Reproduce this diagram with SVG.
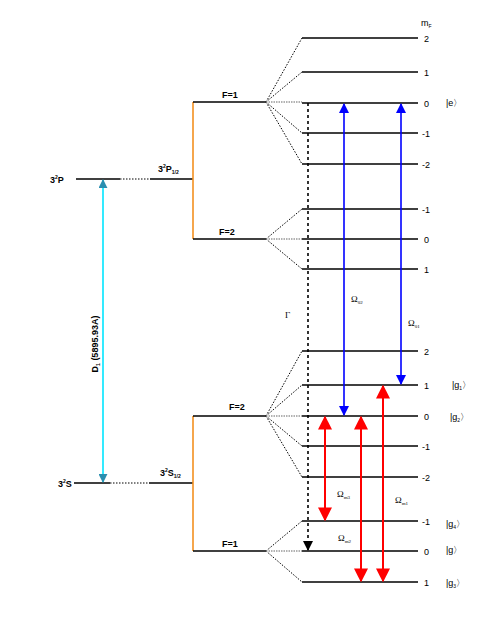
<svg xmlns="http://www.w3.org/2000/svg" width="485" height="627" viewBox="0 0 485 627">
<style>
.lv{stroke:#000;stroke-width:1.6;fill:none}
.dot{stroke:#000;stroke-width:1;stroke-dasharray:1.5 1.5;fill:none}
.hd{stroke:#999;stroke-width:1.5;stroke-dasharray:1.5 1;fill:none}
.dd{stroke:#000;stroke-width:1.6;stroke-dasharray:3 3;fill:none}
.or{stroke:#f39020;stroke-width:1.6;fill:none}
.t{font-family:"Liberation Sans",Arial,sans-serif;font-size:9px;fill:#000}
.b{font-family:"Liberation Sans",Arial,sans-serif;font-size:9px;font-weight:bold;fill:#000}
.sb{font-size:5px}
.om{font-family:"Liberation Serif","Times New Roman",serif;font-size:9px;fill:#000}
</style>
<defs>
<marker id="ab" viewBox="0 0 10 10" refX="9" refY="5" markerWidth="10" markerHeight="10" markerUnits="userSpaceOnUse" orient="auto-start-reverse"><path d="M0,0 L10,5 L0,10 z" fill="#0000ff"/></marker>
<marker id="ar" viewBox="0 0 10 10" refX="9" refY="5" markerWidth="14" markerHeight="14" markerUnits="userSpaceOnUse" orient="auto-start-reverse"><path d="M0,0 L10,5 L0,10 z" fill="#ff0000"/></marker>
<marker id="ac" viewBox="0 0 10 10" refX="9" refY="5" markerWidth="9" markerHeight="9" markerUnits="userSpaceOnUse" orient="auto-start-reverse"><path d="M0,0 L10,5 L0,10 z" fill="#2a8fb0"/></marker>
<marker id="ak" viewBox="0 0 10 10" refX="9" refY="5" markerWidth="10" markerHeight="10" markerUnits="userSpaceOnUse" orient="auto"><path d="M0,0 L10,5 L0,10 z" fill="#000"/></marker>
</defs>

<g id="fine-structure">
<g id="P"><line class="lv" x1="76" y1="179" x2="120" y2="179"/><line class="dot" x1="120" y1="179" x2="150" y2="179" stroke-dasharray="3 4" stroke-width="1.6"/><line class="lv" x1="150" y1="179" x2="193" y2="179"/>
<text class="b" x="50" y="183">3<tspan class="sb" dy="-4">2</tspan><tspan dy="4">P</tspan></text>
<text class="b" x="158" y="172">3<tspan class="sb" dy="-4">2</tspan><tspan dy="4">P</tspan><tspan class="sb" dy="2">1/2</tspan></text></g>
<g id="S"><line class="lv" x1="74" y1="483" x2="110" y2="483"/><line class="dot" x1="110" y1="483" x2="149" y2="483" stroke-dasharray="3 4" stroke-width="1.6"/><line class="lv" x1="149" y1="483" x2="193" y2="483"/>
<text class="b" x="58" y="487">3<tspan class="sb" dy="-4">2</tspan><tspan dy="4">S</tspan></text>
<text class="b" x="160" y="476">3<tspan class="sb" dy="-4">2</tspan><tspan dy="4">S</tspan><tspan class="sb" dy="2">1/2</tspan></text></g>
</g>

<g id="hyperfine">
<line class="or" x1="193" y1="102" x2="193" y2="239"/>
<line class="or" x1="193" y1="416" x2="193" y2="551"/>
<g id="PF1"><line class="lv" x1="193" y1="102" x2="266" y2="102"/><text class="b" x="222" y="98">F=1</text></g>
<g id="PF2"><line class="lv" x1="193" y1="239" x2="266" y2="239"/><text class="b" x="219" y="235">F=2</text></g>
<g id="SF2"><line class="lv" x1="193" y1="416" x2="266" y2="416"/><text class="b" x="229" y="410">F=2</text></g>
<g id="SF1"><line class="lv" x1="193" y1="551" x2="266" y2="551"/><text class="b" x="222" y="547">F=1</text></g>
</g>

<g id="fans">
<path class="dot" d="M266,102 L302,38 M266,102 L302,72 M266,102 L302,133 M266,102 L302,164"/>
<line class="hd" x1="266" y1="102" x2="302" y2="102"/>
<path class="dot" d="M266,239 L302,209 M266,239 L302,269"/>
<line class="hd" x1="266" y1="239" x2="302" y2="239"/>
<path class="dot" d="M266,416 L302,351 M266,416 L302,385 M266,416 L302,446 M266,416 L302,477"/>
<line class="hd" x1="266" y1="416" x2="302" y2="416"/>
<path class="dot" d="M266,551 L302,521 M266,551 L302,582"/>
<line class="hd" x1="266" y1="551" x2="302" y2="551"/>
</g>

<g id="sublevels">
<line class="lv" x1="302" y1="38" x2="418" y2="38"/><text class="t" x="424" y="42">2</text>
<line class="lv" x1="302" y1="72" x2="418" y2="72"/><text class="t" x="424" y="76">1</text>
<line class="lv" x1="302" y1="103" x2="418" y2="103"/><text class="t" x="424" y="107">0</text>
<line class="lv" x1="302" y1="133" x2="418" y2="133"/><text class="t" x="422" y="137">-1</text>
<line class="lv" x1="302" y1="164" x2="418" y2="164"/><text class="t" x="422" y="168">-2</text>
<line class="lv" x1="302" y1="209" x2="418" y2="209"/><text class="t" x="422" y="213">-1</text>
<line class="lv" x1="302" y1="239" x2="418" y2="239"/><text class="t" x="424" y="243">0</text>
<line class="lv" x1="302" y1="269" x2="418" y2="269"/><text class="t" x="424" y="273">1</text>
<line class="lv" x1="302" y1="351" x2="418" y2="351"/><text class="t" x="424" y="355">2</text>
<line class="lv" x1="302" y1="385" x2="418" y2="385"/><text class="t" x="424" y="389">1</text>
<line class="lv" x1="302" y1="416" x2="418" y2="416"/><text class="t" x="424" y="420">0</text>
<line class="lv" x1="302" y1="446" x2="418" y2="446"/><text class="t" x="422" y="450">-1</text>
<line class="lv" x1="302" y1="477" x2="418" y2="477"/><text class="t" x="422" y="481">-2</text>
<line class="lv" x1="302" y1="521" x2="418" y2="521"/><text class="t" x="422" y="525">-1</text>
<line class="lv" x1="302" y1="551" x2="418" y2="551"/><text class="t" x="424" y="555">0</text>
<line class="lv" x1="302" y1="582" x2="418" y2="582"/><text class="t" x="424" y="586">1</text>
<text class="t" x="421" y="26" font-size="13">m<tspan class="sb" dy="2">F</tspan></text>
</g>

<g id="state-labels">
<text class="t" x="446" y="106" font-size="8">|e〉</text>
<text class="t" x="452" y="388" font-size="8">|g<tspan class="sb" dy="2">1</tspan><tspan dy="-2">〉</tspan></text>
<text class="t" x="450" y="420" font-size="8">|g<tspan class="sb" dy="2">2</tspan><tspan dy="-2">〉</tspan></text>
<text class="t" x="446" y="527" font-size="8">|g<tspan class="sb" dy="2">4</tspan><tspan dy="-2">〉</tspan></text>
<text class="t" x="446" y="553" font-size="8">|g〉</text>
<text class="t" x="446" y="586" font-size="8">|g<tspan class="sb" dy="2">3</tspan><tspan dy="-2">〉</tspan></text>
</g>

<g id="connectors">
<line stroke="#00e5ff" stroke-width="1.6" x1="103" y1="180" x2="103" y2="482" marker-start="url(#ac)" marker-end="url(#ac)"/>
<text class="b" transform="translate(98,344) rotate(-90)" text-anchor="middle">D<tspan class="sb" dy="2">1</tspan><tspan dy="-2"> (5895.93A)</tspan></text>
<line class="dd" x1="308" y1="103" x2="308" y2="550" marker-end="url(#ak)"/>
<text class="om" x="285" y="318" font-size="10">Γ</text>
<line stroke="#0000ff" stroke-width="1.6" x1="344" y1="104" x2="344" y2="415" marker-start="url(#ab)" marker-end="url(#ab)"/>
<line stroke="#0000ff" stroke-width="1.6" x1="401" y1="104" x2="401" y2="384" marker-start="url(#ab)" marker-end="url(#ab)"/>
<text class="om" x="351" y="302">Ω<tspan class="sb" dy="2">02</tspan></text>
<text class="om" x="408" y="326">Ω<tspan class="sb" dy="2">01</tspan></text>
<line stroke="#ff0000" stroke-width="2" x1="325" y1="417" x2="325" y2="520" marker-start="url(#ar)" marker-end="url(#ar)"/>
<line stroke="#ff0000" stroke-width="2" x1="361" y1="417" x2="361" y2="581" marker-start="url(#ar)" marker-end="url(#ar)"/>
<line stroke="#ff0000" stroke-width="2" x1="383" y1="386" x2="383" y2="581" marker-start="url(#ar)" marker-end="url(#ar)"/>
<text class="om" x="337" y="497">Ω<tspan class="sb" dy="2">m3</tspan></text>
<text class="om" x="395" y="503">Ω<tspan class="sb" dy="2">m1</tspan></text>
<text class="om" x="338" y="541">Ω<tspan class="sb" dy="2">m2</tspan></text>
</g>
</svg>
